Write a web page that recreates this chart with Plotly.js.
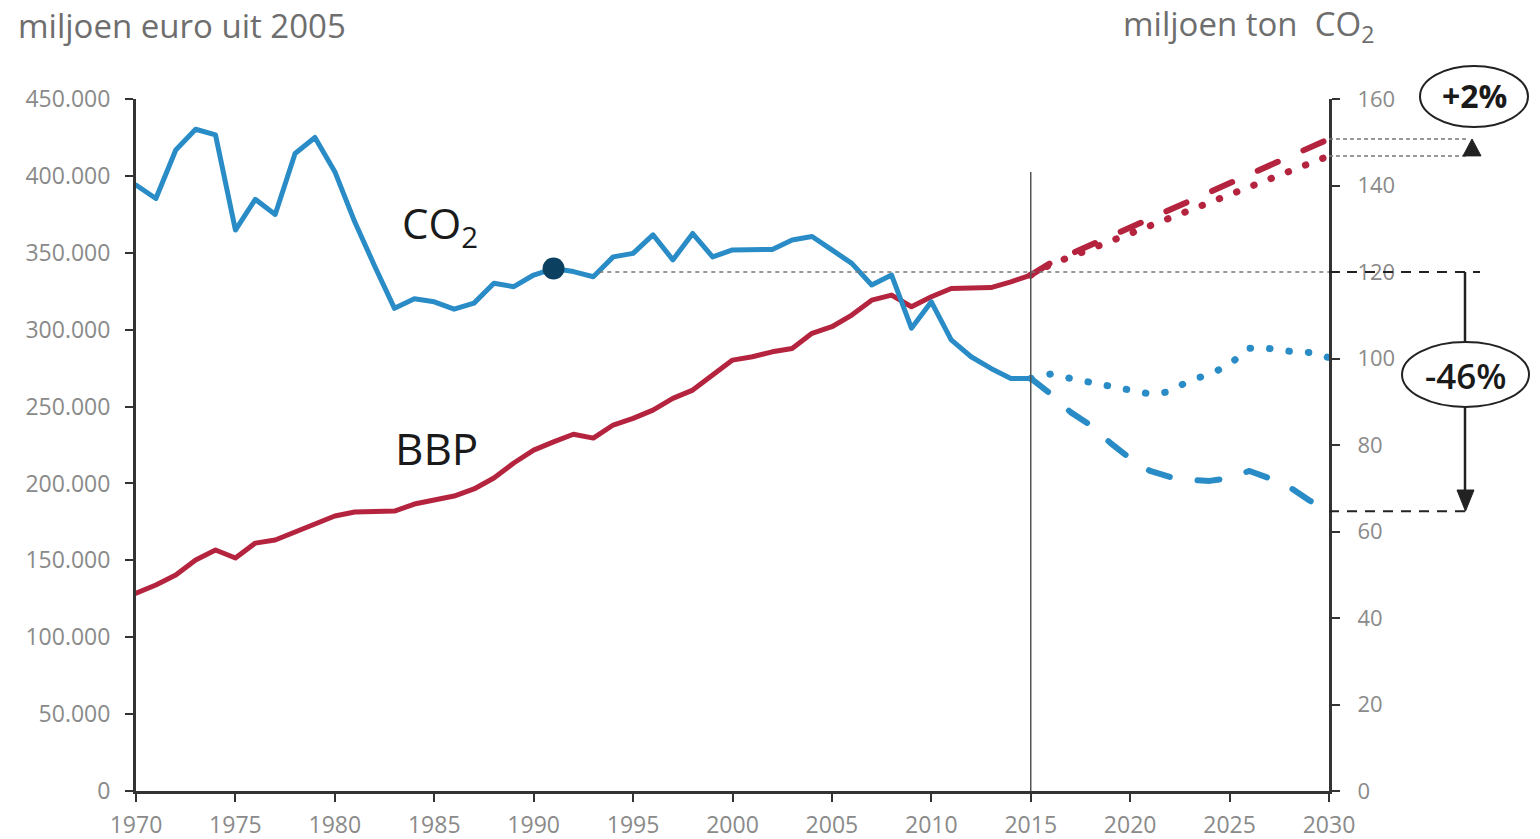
<!DOCTYPE html>
<html>
<head>
<meta charset="utf-8">
<script src="https://cdn.plot.ly/plotly-3.0.1.min.js"></script>
<style>
  html, body { margin: 0; padding: 0; background: #ffffff; }
  #chart { width: 1540px; height: 839px; }
  .js-line { stroke-linecap: round; stroke-linejoin: round; }
</style>
</head>
<body>
<div id="chart"></div>
<script>
// ---- data ----
const yearsHist = [1970,1971,1972,1973,1974,1975,1976,1977,1978,1979,
                   1980,1981,1982,1983,1984,1985,1986,1987,1988,1989,
                   1990,1991,1992,1993,1994,1995,1996,1997,1998,1999,
                   2000,2001,2002,2003,2004,2005,2006,2007,2008,2009,
                   2010,2011,2012,2013,2014,2015];
// CO2, miljoen ton (right axis)
const co2Hist = [140.1,137.0,148.2,153.0,151.7,129.7,136.8,133.3,147.4,151.1,
                 143.2,131.6,121.4,111.6,113.8,113.1,111.4,112.8,117.4,116.6,
                 119.3,120.8,120.1,118.9,123.5,124.3,128.6,122.8,128.9,123.5,
                 125.1,125.1,125.2,127.4,128.2,125.1,122.0,117.0,119.3,107.0,
                 113.1,104.3,100.4,97.7,95.4,95.4];
// BBP, miljoen euro uit 2005 (left axis)
const bbpHist = [128700,134000,140400,150200,156700,151500,161200,163200,168400,173600,
                 178800,181400,181400,182000,186600,189200,191800,196400,203500,213300,
                 221700,227000,232000,229500,238000,242300,247700,255300,260700,270500,
                 280200,282400,285600,287800,297600,301900,309500,319200,322500,314900,
                 321400,326800,327400,327400,331100,335500];

const yearsProj = [2015,2016,2017,2018,2019,2020,2021,2022,2023,2024,2025,2026,2027,2028,2029,2030];
const bbpProjHigh = [335500,343400,349200,355000,360700,366500,372300,378100,383900,389700,395500,401200,407000,412800,418600,424000];
const bbpProjLow  = [335500,342400,347400,352500,357500,362600,367600,372600,377700,382700,387800,392800,397800,402900,407900,413000];
const co2ProjHigh = [95.4,96.4,95.4,94.4,93.5,92.5,91.8,92.3,95.0,96.3,98.7,102.4,102.3,101.7,101.4,100.2];
const co2ProjLow  = [95.4,91.8,87.6,84.6,80.5,76.9,74.0,72.6,71.9,71.7,72.4,74.0,72.3,70.3,67.2,64.7];

const baseYear = 1991;          // marked point on the CO2 line
const refCO2 = 120;             // reference level (miljoen ton)
const leftTicks = [0,50000,100000,150000,200000,250000,300000,350000,400000,450000];
const rightTicks = [0,20,40,60,80,100,120,140,160];
const xTicks = [1970,1975,1980,1985,1990,1995,2000,2005,2010,2015,2020,2025,2030];

// ---- styling ----
const BLUE = 'rgb(42,140,198)';
const RED = 'rgb(181,36,62)';
const DOT = 'rgb(12,64,96)';
const AX = '#333333';
const TICKC = '#8a8a8a';
const FONT = 'Open Sans, DejaVu Sans, sans-serif';

// pixel helpers (plot area: x 136..1329, y 99..791)
const L = 136, R = 1329, T = 99, B = 791;
const px = x => (x - L) / (R - L);
const py = y => (B - y) / (B - T);
const y2px = y => 160 * (B - y) / (B - T);

const baseIdx = yearsHist.indexOf(baseYear);
const lastHigh = bbpProjHigh[bbpProjHigh.length - 1];
const lastLow = bbpProjLow[bbpProjLow.length - 1];
const lastCo2Low = co2ProjLow[co2ProjLow.length - 1];

const traces = [
  {x: yearsHist, y: bbpHist, type: 'scatter', mode: 'lines', yaxis: 'y',
   line: {color: RED, width: 5}},
  {x: yearsProj, y: bbpProjHigh, type: 'scatter', mode: 'lines', yaxis: 'y',
   line: {color: RED, width: 6, dash: '22px,28px'}},
  {x: yearsProj, y: bbpProjLow, type: 'scatter', mode: 'lines', yaxis: 'y',
   line: {color: RED, width: 7, dash: '0.5px,18px'}},
  {x: yearsHist, y: co2Hist, type: 'scatter', mode: 'lines', yaxis: 'y2',
   line: {color: BLUE, width: 5}},
  {x: yearsProj, y: co2ProjHigh, type: 'scatter', mode: 'lines', yaxis: 'y2',
   line: {color: BLUE, width: 7, dash: '0.5px,19px'}},
  {x: yearsProj, y: co2ProjLow, type: 'scatter', mode: 'lines', yaxis: 'y2',
   line: {color: BLUE, width: 6, dash: '22px,28px'}},
  {x: [baseYear], y: [co2Hist[baseIdx]], type: 'scatter', mode: 'markers', yaxis: 'y2',
   marker: {color: DOT, size: 22}}
];

const shapes = [
  // vertical line at 2015
  {type: 'line', xref: 'x', yref: 'paper', x0: 2015, x1: 2015, y0: 0, y1: py(172),
   line: {color: '#555', width: 1.5}},
  // fine dotted reference line at 120
  {type: 'line', xref: 'x', yref: 'y2', x0: 1993.3, x1: 2030, y0: refCO2, y1: refCO2,
   line: {color: '#777', width: 1.5, dash: '4px,4px'}},
  // -46% bracket lines
  {type: 'line', xref: 'paper', yref: 'y2', x0: 1.0, x1: px(1480), y0: refCO2, y1: refCO2,
   line: {color: '#222', width: 2, dash: '10px,8px'}},
  {type: 'line', xref: 'paper', yref: 'y2', x0: 1.0, x1: px(1468), y0: lastCo2Low, y1: lastCo2Low,
   line: {color: '#222', width: 2, dash: '10px,8px'}},
  {type: 'line', xref: 'paper', yref: 'y2', x0: px(1465), x1: px(1465), y0: refCO2, y1: y2px(341),
   line: {color: '#222', width: 2.5}},
  {type: 'line', xref: 'paper', yref: 'y2', x0: px(1465), x1: px(1465), y0: y2px(407), y1: y2px(492),
   line: {color: '#222', width: 2.5}},
  {type: 'path', xref: 'paper', yref: 'y2',
   path: `M ${px(1457)} ${y2px(490)} L ${px(1474)} ${y2px(490)} L ${px(1465.5)} ${lastCo2Low} Z`,
   fillcolor: '#222', line: {color: '#222', width: 1}},
  {type: 'circle', xref: 'paper', yref: 'paper', x0: px(1402), x1: px(1529), y0: py(407), y1: py(342),
   line: {color: '#222', width: 2}, fillcolor: 'rgba(255,255,255,1)'},
  // +2% bracket
  {type: 'line', xref: 'paper', yref: 'y', x0: 1.0, x1: px(1467), y0: lastHigh, y1: lastHigh,
   line: {color: '#777', width: 1.5, dash: '4px,3px'}},
  {type: 'line', xref: 'paper', yref: 'y', x0: 1.0, x1: px(1467), y0: lastLow, y1: lastLow,
   line: {color: '#777', width: 1.5, dash: '4px,3px'}},
  {type: 'path', xref: 'paper', yref: 'y',
   path: `M ${px(1463)} ${lastLow} L ${px(1481)} ${lastLow} L ${px(1472)} ${lastHigh} Z`,
   fillcolor: '#222', line: {color: '#222', width: 1}},
  {type: 'circle', xref: 'paper', yref: 'paper', x0: px(1420), x1: px(1528), y0: py(127), y1: py(66),
   line: {color: '#222', width: 2}, fillcolor: 'rgba(255,255,255,1)'}
];

const annotations = [
  {text: 'miljoen euro uit 2005', xref: 'paper', yref: 'paper', x: px(16), y: py(26),
   xanchor: 'left', yanchor: 'middle', showarrow: false,
   font: {family: FONT, size: 33, color: '#6e6e6e'}},
  {text: 'miljoen ton  CO<sub>2</sub>', xref: 'paper', yref: 'paper', x: px(1121), y: py(25),
   xanchor: 'left', yanchor: 'middle', showarrow: false,
   font: {family: FONT, size: 33, color: '#6e6e6e'}},
  {text: 'CO<sub>2</sub>', xref: 'paper', yref: 'paper', x: px(400), y: py(226),
   xanchor: 'left', yanchor: 'middle', showarrow: false,
   font: {family: FONT, size: 42, color: '#1a1a1a'}},
  {text: 'BBP', xref: 'paper', yref: 'paper', x: px(393), y: py(448),
   xanchor: 'left', yanchor: 'middle', showarrow: false,
   font: {family: FONT, size: 44, color: '#1a1a1a'}},
  {text: '+2%', xref: 'paper', yref: 'paper', x: px(1474), y: py(96),
   xanchor: 'center', yanchor: 'middle', showarrow: false,
   font: {family: FONT, size: 32, color: '#1a1a1a', weight: 700}},
  {text: '-46%', xref: 'paper', yref: 'paper', x: px(1466), y: py(375),
   xanchor: 'center', yanchor: 'middle', showarrow: false,
   font: {family: FONT, size: 35, color: '#1a1a1a', weight: 600}}
];

const layout = {
  width: 1540, height: 839,
  margin: {l: L, r: 1540 - R, t: T, b: 839 - B, pad: 0},
  paper_bgcolor: '#ffffff', plot_bgcolor: '#ffffff',
  showlegend: false,
  separators: ',.',
  font: {family: FONT, color: TICKC},
  xaxis: {
    range: [1970, 2030], tickmode: 'array', tickvals: xTicks,
    showgrid: false, zeroline: false, showline: true, linecolor: AX, linewidth: 3,
    ticks: 'outside', ticklen: 8, tickwidth: 2, tickcolor: AX,
    tickfont: {family: FONT, size: 23, color: TICKC}, ticklabelstandoff: 3
  },
  yaxis: {
    range: [0, 450000], tickmode: 'array', tickvals: leftTicks, tickformat: ',d',
    showgrid: false, zeroline: false, showline: true, linecolor: AX, linewidth: 3,
    ticks: 'outside', ticklen: 8, tickwidth: 2, tickcolor: AX,
    tickfont: {family: FONT, size: 23, color: TICKC}, ticklabelstandoff: 10
  },
  yaxis2: {
    range: [0, 160], tickmode: 'array', tickvals: rightTicks,
    overlaying: 'y', side: 'right',
    showgrid: false, zeroline: false, showline: true, linecolor: AX, linewidth: 3,
    ticks: 'outside', ticklen: 8, tickwidth: 2, tickcolor: AX,
    tickfont: {family: FONT, size: 22, color: TICKC}, ticklabelstandoff: 13
  },
  shapes: shapes,
  annotations: annotations
};

Plotly.newPlot('chart', traces, layout, {staticPlot: true, displayModeBar: false});
</script>
</body>
</html>
